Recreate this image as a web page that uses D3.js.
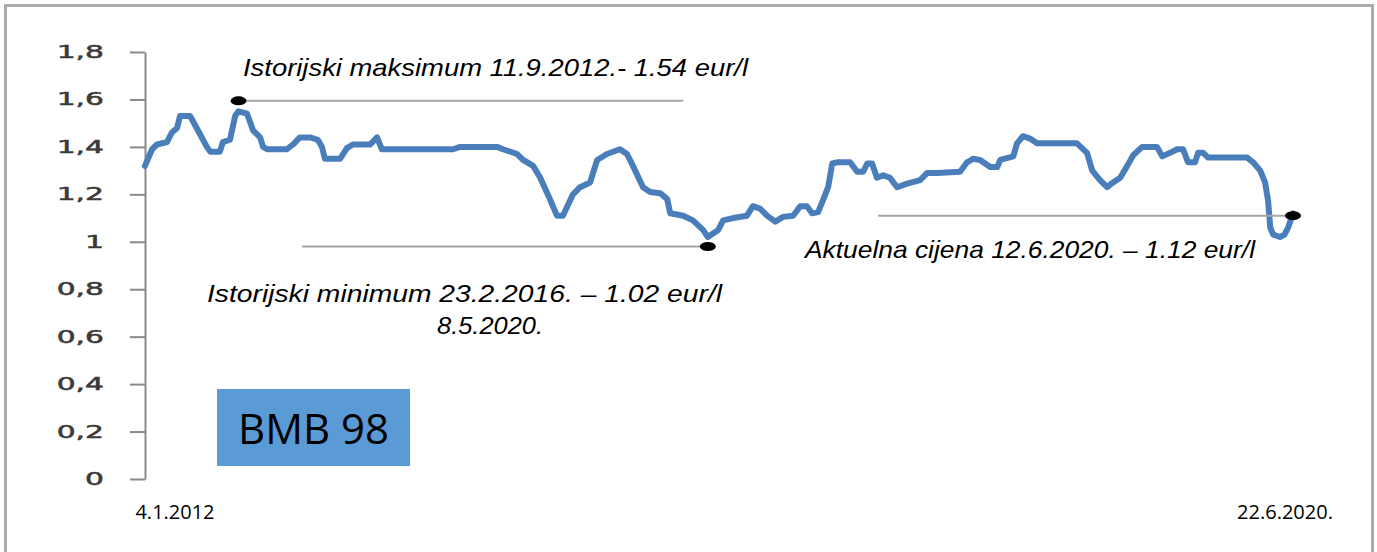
<!DOCTYPE html>
<html>
<head>
<meta charset="utf-8">
<script src="https://cdn.jsdelivr.net/npm/d3@7"></script>
<style>
  html, body { margin: 0; padding: 0; background: #fff; }
  svg { display: block; }
</style>
</head>
<body>
<svg id="chart" width="1377" height="552"></svg>
<script>
// ---- data ----
const dates = [
  "2012-01-04","2012-01-23","2012-02-05","2012-03-03","2012-03-16","2012-03-30","2012-04-07","2012-05-04",
  "2012-05-25","2012-06-18","2012-06-27","2012-07-23","2012-07-31","2012-08-19","2012-09-02","2012-09-11",
  "2012-10-04","2012-10-20","2012-11-08","2012-11-16","2012-11-27","2013-01-19","2013-02-04","2013-02-23",
  "2013-03-22","2013-04-12","2013-04-23","2013-05-01","2013-06-11","2013-06-29","2013-07-15","2013-08-30",
  "2013-09-18","2013-10-01","2014-04-10","2014-04-29","2014-08-06","2014-08-22","2014-09-29","2014-10-15",
  "2014-11-11","2014-11-30","2014-12-26","2015-01-14","2015-01-30","2015-02-26","2015-03-17","2015-04-13",
  "2015-05-02","2015-05-28","2015-07-02","2015-07-21","2015-08-06","2015-09-02","2015-09-21","2015-10-18",
  "2015-11-06","2015-11-14","2015-12-19","2016-01-14","2016-02-10","2016-02-23","2016-03-22","2016-04-04",
  "2016-05-01","2016-06-07","2016-06-23","2016-07-12","2016-07-31","2016-08-22","2016-09-12","2016-10-09",
  "2016-10-28","2016-11-15","2016-11-29","2016-12-15","2016-12-28","2017-01-11","2017-01-22","2017-02-04",
  "2017-03-11","2017-03-30","2017-04-15","2017-04-26","2017-05-09","2017-05-22","2017-06-08","2017-06-26",
  "2017-07-15","2017-08-11","2017-09-15","2017-10-04","2017-10-31","2017-12-31","2018-01-19","2018-02-04",
  "2018-02-23","2018-03-22","2018-04-10","2018-04-18","2018-05-23","2018-06-02","2018-06-18","2018-07-07",
  "2018-07-26","2018-11-10","2018-12-07","2018-12-21","2019-01-11","2019-01-30","2019-02-15","2019-03-06",
  "2019-03-25","2019-04-10","2019-05-04","2019-06-13","2019-06-27","2019-07-18","2019-08-06","2019-08-22",
  "2019-09-04","2019-09-23","2019-10-01","2019-10-15","2019-10-28","2020-02-10","2020-02-26","2020-03-16",
  "2020-03-29","2020-04-06","2020-04-12","2020-04-20","2020-05-08","2020-05-20","2020-05-30","2020-06-12"
];
const prices = [
  1.32,1.39,1.41,1.42,1.46,1.48,1.53,1.53,
  1.47,1.40,1.38,1.38,1.42,1.43,1.53,1.55,
  1.54,1.47,1.44,1.40,1.39,1.39,1.41,1.44,
  1.44,1.43,1.40,1.35,1.35,1.395,1.41,1.41,
  1.44,1.39,1.39,1.40,1.40,1.39,1.37,1.345,
  1.32,1.27,1.18,1.11,1.11,1.20,1.23,1.25,
  1.345,1.37,1.39,1.37,1.32,1.23,1.21,1.205,
  1.18,1.12,1.11,1.09,1.05,1.02,1.05,1.09,
  1.10,1.11,1.15,1.14,1.11,1.085,1.105,1.11,
  1.15,1.15,1.12,1.125,1.175,1.23,1.33,1.335,
  1.335,1.295,1.295,1.33,1.33,1.27,1.28,1.27,
  1.23,1.245,1.26,1.29,1.29,1.295,1.335,1.35,
  1.345,1.315,1.315,1.345,1.36,1.415,1.445,1.435,
  1.415,1.415,1.375,1.30,1.26,1.23,1.25,1.27,
  1.32,1.365,1.40,1.40,1.36,1.375,1.39,1.39,
  1.335,1.335,1.375,1.375,1.355,1.355,1.335,1.30,
  1.25,1.175,1.06,1.03,1.02,1.03,1.06,1.12
];
const yTickValues = [0, 0.2, 0.4, 0.6, 0.8, 1, 1.2, 1.4, 1.6, 1.8];
const yTickLabels = ["0", "0,2", "0,4", "0,6", "0,8", "1", "1,2", "1,4", "1,6", "1,8"];
const xDomain = ["2012-01-04", "2020-06-12"];
const xEndLabels = ["4.1.2012", "22.6.2020."];

// annotations: line start/end dates, level, dot date
const annoLineStart = ["2012-09-11", "2013-03-01", "2017-05-25"];
const annoLineEnd   = ["2015-12-19", "2016-02-23", "2020-06-12"];
const annoValue     = [1.594, 0.98, 1.11];
const annoDot       = ["2012-09-11", "2016-02-23", "2020-06-12"];
const annoTexts = [
  ["Istorijski maksimum 11.9.2012.- 1.54 eur/l"],
  ["Istorijski minimum 23.2.2016. – 1.02 eur/l", "8.5.2020."],
  ["Aktuelna cijena 12.6.2020. – 1.12 eur/l"]
];
const badgeText = "BMB 98";

// ---- drawing ----
const parse = d3.timeParse("%Y-%m-%d");
const svg = d3.select("#chart");

// outer frame
svg.append("rect")
  .attr("x", 5.5).attr("y", 5.5).attr("width", 1367).attr("height", 600)
  .attr("fill", "none").attr("stroke", "#ababab").attr("stroke-width", 3);

const x = d3.scaleTime().domain(xDomain.map(parse)).range([145, 1293]);
const y = d3.scaleLinear().domain([0, 1.8]).range([479, 52]);

// y axis
const yAxis = d3.axisLeft(y)
  .tickValues(yTickValues)
  .tickFormat((d, i) => yTickLabels[i])
  .tickSize(15)
  .tickSizeOuter(0);
const gy = svg.append("g").attr("transform", "translate(145,0)").call(yAxis);
gy.select(".domain").attr("stroke", "#8a8a8a").attr("stroke-width", 2);
gy.selectAll(".tick line").attr("stroke", "#8a8a8a").attr("stroke-width", 2);
gy.selectAll(".tick text")
  .attr("x", 0)
  .attr("transform", "translate(-41,0) scale(1.75,1)")
  .attr("font-family", "DejaVu Sans, Verdana, sans-serif")
  .attr("font-size", 17)
  .attr("fill", "#3a3a3a")
  .attr("stroke", "#3a3a3a").attr("stroke-width", 0.5);

// line
const data = dates.map((d, i) => ({ date: parse(d), value: prices[i] }));
const line = d3.line().x(d => x(d.date)).y(d => y(d.value)).curve(d3.curveLinear);
svg.append("path")
  .datum(data)
  .attr("d", line)
  .attr("fill", "none")
  .attr("stroke", "#4a7ebb")
  .attr("stroke-width", 6)
  .attr("stroke-linejoin", "round")
  .attr("stroke-linecap", "round");

// annotation lines & dots
annoValue.forEach((v, i) => {
  svg.append("line")
    .attr("x1", x(parse(annoLineStart[i]))).attr("x2", x(parse(annoLineEnd[i])))
    .attr("y1", y(v)).attr("y2", y(v))
    .attr("stroke", "#a6a6a6").attr("stroke-width", 2);
});
annoValue.forEach((v, i) => {
  svg.append("ellipse")
    .attr("cx", x(parse(annoDot[i]))).attr("cy", y(v))
    .attr("rx", 8).attr("ry", 4.5)
    .attr("fill", "#000");
});

// annotation texts
const annoFont = "Liberation Sans, Arial, sans-serif";
const annoPos = [[[243, 76]], [[207, 302], [437, 334]], [[805, 258]]];
const annoWidth = [[505], [515, 106], [450]];
annoTexts.forEach((lines, i) => {
  lines.forEach((t, j) => {
    svg.append("text")
      .attr("x", annoPos[i][j][0])
      .attr("y", annoPos[i][j][1])
      .attr("text-anchor", "start")
      .attr("textLength", annoWidth[i][j])
      .attr("lengthAdjust", "spacingAndGlyphs")
      .attr("font-family", annoFont)
      .attr("font-style", "italic")
      .attr("font-size", 24)
      .attr("fill", "#000")
      .text(t);
  });
});

// badge
svg.append("rect")
  .attr("x", 217).attr("y", 389).attr("width", 193).attr("height", 77)
  .attr("fill", "#5b9bd5");
svg.append("text")
  .attr("x", 313.5).attr("y", 444)
  .attr("text-anchor", "middle")
  .attr("font-family", "Open Sans, Noto Sans, sans-serif")
  .attr("font-size", 42)
  .attr("fill", "#000")
  .text(badgeText);

// x end labels
svg.append("text")
  .attr("x", 175).attr("y", 519)
  .attr("text-anchor", "middle")
  .attr("font-family", "Open Sans, Noto Sans, sans-serif")
  .attr("font-size", 20)
  .attr("fill", "#000")
  .text(xEndLabels[0]);
svg.append("text")
  .attr("x", 1285).attr("y", 519)
  .attr("text-anchor", "middle")
  .attr("font-family", "Open Sans, Noto Sans, sans-serif")
  .attr("font-size", 20)
  .attr("fill", "#000")
  .text(xEndLabels[1]);
</script>
</body>
</html>
